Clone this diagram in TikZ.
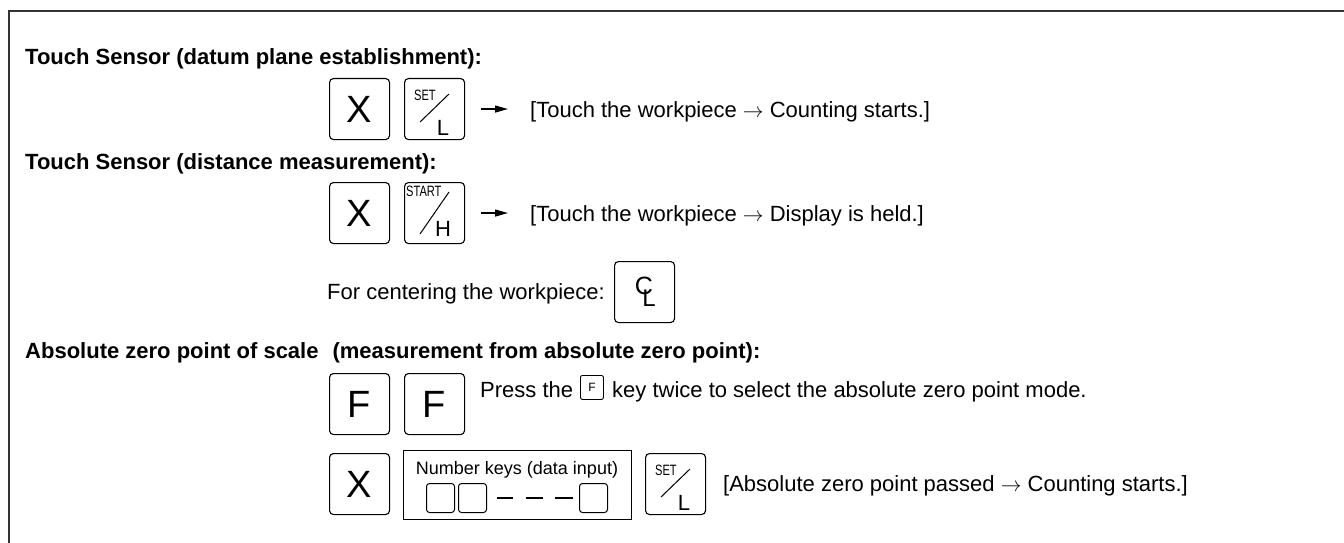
\documentclass[tikz,border=0pt]{standalone}
\usepackage{fontspec}
\setmainfont{Liberation Sans}
\usetikzlibrary{arrows.meta,calc}
\tikzset{
  keybox/.style={draw, rounded corners=4pt, line width=1.1pt, minimum width=60pt,
    minimum height=61pt, inner sep=0pt, anchor=north west, font=\fontsize{38}{38}\selectfont},
  pics/slashkey/.style n args={8}{code={
    \node[keybox] (-box) at (0,0) {};
    \draw[line width=1pt] (16,#4) -- (45,#5);
    \node[font=\fontsize{#8}{#8}\selectfont, xscale=0.74, inner sep=0pt, anchor=base west] (-top) at (#3,#6) {#1};
    \node[font=\fontsize{22}{22}\selectfont, inner sep=0pt, anchor=base] (-bot) at (39,#7) {#2};
  }},
}
\begin{document}
\begin{tikzpicture}[x=1pt,y=-1pt,
  head/.style={anchor=base west, inner sep=0pt, font=\fontsize{22}{26}\selectfont\bfseries},
  body/.style={anchor=base west, inner sep=0pt, font=\fontsize{22}{26}\selectfont},
  arr/.style={line width=1.2pt, -{Triangle[length=13pt,width=7pt]}},
  smallkey/.style={draw, rounded corners=3pt, line width=1pt, minimum width=28pt,
    minimum height=29pt, inner sep=0pt, anchor=north west},
  dashline/.style={line width=2pt},
  frameline/.style={line width=2pt, draw=black!80},
]
\useasboundingbox (0,0) rectangle (1344,543);
\draw[frameline] (1344,11) -- (9,11) -- (9,543);

% section 1
\node[head] (h1) at (25,65) {Touch Sensor (datum plane establishment):};
\node[keybox] (k1) at (329,78) {X};
\pic (k2) at (404,78) {slashkey={SET}{L}{10}{44}{16}{22}{57}{15}};
\node[body] (t1) at (530,117) {[Touch the workpiece $\rightarrow$ Counting starts.]};
\coordinate (a1) at ($(k2-box.east)+(16,0)$);
\draw[arr, shorten >=22pt] (a1) -- (a1 -| t1.west);

% section 2
\node[head] (h2) at (25,169) {Touch Sensor (distance measurement):};
\node[keybox] (k3) at (329,182) {X};
\pic (k4) at (404,182) {slashkey={START}{H}{2}{52}{10}{14}{54}{15}};
\node[body] (t2) at (530,221) {[Touch the workpiece $\rightarrow$ Display is held.]};
\coordinate (a2) at ($(k4-box.east)+(16,0)$);
\draw[arr, shorten >=22pt] (a2) -- (a2 -| t2.west);

\node[body] (c0) at (327,299) {For centering the workpiece:};
\node[keybox] (cl) at (614,261) {};
\node[font=\fontsize{25}{25}\selectfont, inner sep=0pt] (clc) at ($(cl.north west)+(30,25)$) {C};
\node[font=\fontsize{24}{24}\selectfont, inner sep=0pt] (cll) at ($(cl.north west)+(35,37)$) {L};

% section 3
\node[head] (h3) at (25,358) {Absolute zero point of scale\hspace{14pt}(measurement from absolute zero point):};
\node[keybox] (f1) at (329,373) {F};
\node[keybox] (f2) at (404,373) {F};
\node[body] (p1) at (480,397) {Press the};
\node[draw, rounded corners=2pt, line width=0.9pt, minimum width=23pt, minimum height=24pt,
  inner sep=0pt, anchor=north west, font=\fontsize{12}{12}\selectfont] (fs) at (580,375) {F};
\node[body] (p2) at (612,397) {key twice to select the absolute zero point mode.};

\node[keybox] (k5) at (329,453) {X};
\node[draw, line width=1.3pt, minimum width=228pt, minimum height=69pt, inner sep=0pt,
  anchor=north west] (nb) at (403,450) {};
\node[anchor=base, inner sep=0pt, font=\fontsize{18}{18}\selectfont] (nbt) at (517,474) {Number keys (data input)};
\node[smallkey] (n1) at (426,483) {};
\node[smallkey] (n2) at (458,483) {};
\node[smallkey] (n3) at (579,483) {};
\coordinate (d0) at (497,497.5);
\draw[dashline] (d0) -- ++(16,0);
\draw[dashline] (d0) ++(29,0) -- ++(17,0);
\draw[dashline] (d0) ++(58,0) -- ++(18,0);
\pic (k6) at (645,453) {slashkey={SET}{L}{10}{44}{16}{22}{57}{15}};
\node[body] (t3) at (723,491) {[Absolute zero point passed $\rightarrow$ Counting starts.]};
\end{tikzpicture}
\end{document}
